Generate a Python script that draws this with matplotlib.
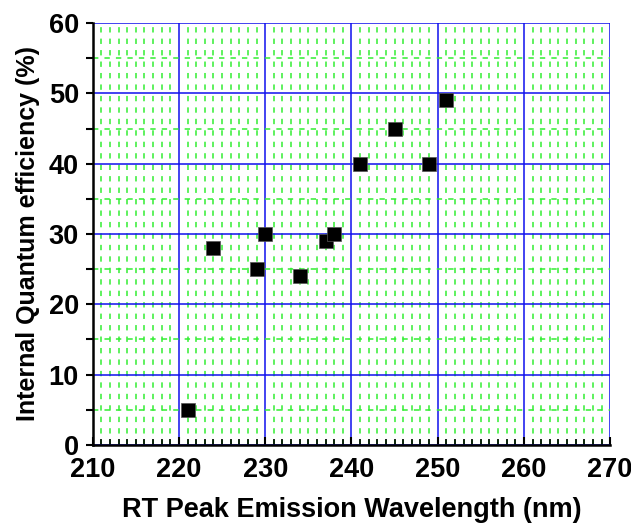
import matplotlib
matplotlib.use("Agg")
import matplotlib.pyplot as plt
from matplotlib.ticker import MultipleLocator

wavelength = [221, 224, 229, 230, 234, 237, 238, 241, 245, 249, 251]
iqe = [5, 28, 25, 30, 24, 29, 30, 40, 45, 40, 49]

plt.rcParams['font.family'] = ['Liberation Sans', 'DejaVu Sans']

fig = plt.figure(figsize=(6.31, 5.24), dpi=100)
ax = fig.add_axes([0.147, 0.151, 0.820, 0.805])

ax.set_xlim(210, 270)
ax.set_ylim(0, 60)
ax.xaxis.set_major_locator(MultipleLocator(10))
ax.xaxis.set_minor_locator(MultipleLocator(1))
ax.yaxis.set_major_locator(MultipleLocator(10))
ax.yaxis.set_minor_locator(MultipleLocator(5))

ax.grid(which='minor', color='#33ee33', linestyle=(0, (3.5, 4)), linewidth=1.1)
ax.grid(which='major', color='#1010ee', linestyle='-', linewidth=1.1)
ax.set_axisbelow(True)

ax.scatter(wavelength, iqe, marker='s', s=100, c='black', edgecolors='#555555',
           linewidths=0.5, zorder=5)

for side in ['top', 'right']:
    ax.spines[side].set_visible(False)
for side in ['left', 'bottom']:
    ax.spines[side].set_linewidth(1.8)

ax.tick_params(axis='x', which='major', direction='in', length=6, width=1.5, pad=9)
ax.tick_params(axis='x', which='minor', direction='in', length=4, width=1.2)
ax.tick_params(axis='y', which='major', direction='out', length=5, width=1.5, pad=5)
ax.tick_params(axis='y', which='minor', direction='out', length=5, width=1.5)
ax.tick_params(axis='both', labelsize=19.5)
for lbl in ax.get_xticklabels() + ax.get_yticklabels():
    lbl.set_fontweight('bold')

ax.set_xlabel('RT Peak Emission Wavelength (nm)', fontsize=19.5, fontweight='bold', labelpad=10)
ax.set_ylabel('Internal Quantum efficiency (%)', fontsize=18, fontweight='bold', labelpad=6)

fig.savefig('out.png', dpi=100)
